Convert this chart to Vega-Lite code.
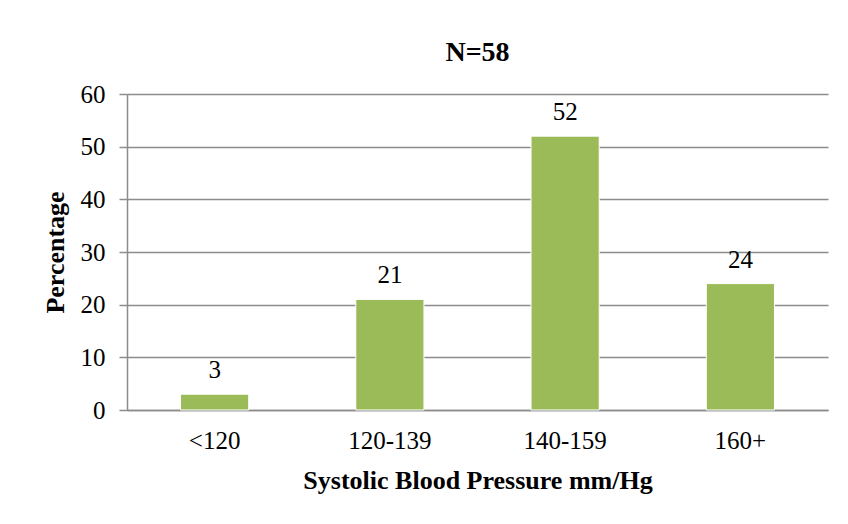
{
  "$schema": "https://vega.github.io/schema/vega-lite/v6.json",
  "width": 701,
  "height": 316,
  "autosize": {"type": "none"},
  "padding": {"left": 127, "top": 94, "right": 20, "bottom": 114},
  "background": "white",
  "config": {
    "view": {"stroke": null},
    "font": "Liberation Serif"
  },
  "title": {
    "text": "N=58",
    "font": "Liberation Serif",
    "fontSize": 28,
    "fontWeight": "bold",
    "color": "black",
    "offset": 15,
    "anchor": "middle"
  },
  "data": {
    "values": [
      {"range": "<120", "pct": 3},
      {"range": "120-139", "pct": 21},
      {"range": "140-159", "pct": 52},
      {"range": "160+", "pct": 24}
    ]
  },
  "encoding": {
    "x": {
      "field": "range",
      "type": "nominal",
      "sort": null,
      "scale": {"paddingInner": 0.611, "paddingOuter": 0.3055},
      "axis": {
        "title": "Systolic Blood Pressure mm/Hg",
        "titleFont": "Liberation Serif",
        "titleFontSize": 26,
        "titleFontWeight": "bold",
        "titleColor": "black",
        "titlePadding": 14,
        "labelFont": "Liberation Serif",
        "labelFontSize": 25,
        "labelColor": "black",
        "labelAngle": 0,
        "labelPadding": 18,
        "ticks": false,
        "domainColor": "#8c8c8c",
        "domainWidth": 1.5,
        "grid": false
      }
    },
    "y": {
      "field": "pct",
      "type": "quantitative",
      "scale": {"domain": [0, 60], "nice": false},
      "axis": {
        "title": "Percentage",
        "titleFont": "Liberation Serif",
        "titleFontSize": 26,
        "titleFontWeight": "bold",
        "titleColor": "black",
        "titlePadding": 12,
        "values": [0, 10, 20, 30, 40, 50, 60],
        "labelFont": "Liberation Serif",
        "labelFontSize": 25,
        "labelColor": "black",
        "labelPadding": 14,
        "tickSize": 8,
        "tickColor": "#8c8c8c",
        "tickWidth": 1.5,
        "domainColor": "#8c8c8c",
        "domainWidth": 1.5,
        "grid": true,
        "gridColor": "#8c8c8c",
        "gridWidth": 1.5
      }
    }
  },
  "layer": [
    {
      "mark": {"type": "bar", "color": "#9bbb59", "stroke": "white", "strokeWidth": 1}
    },
    {
      "mark": {"type": "text", "font": "Liberation Serif", "fontSize": 25, "color": "black", "baseline": "alphabetic", "dy": -16},
      "encoding": {"text": {"field": "pct", "type": "quantitative"}}
    }
  ]
}
